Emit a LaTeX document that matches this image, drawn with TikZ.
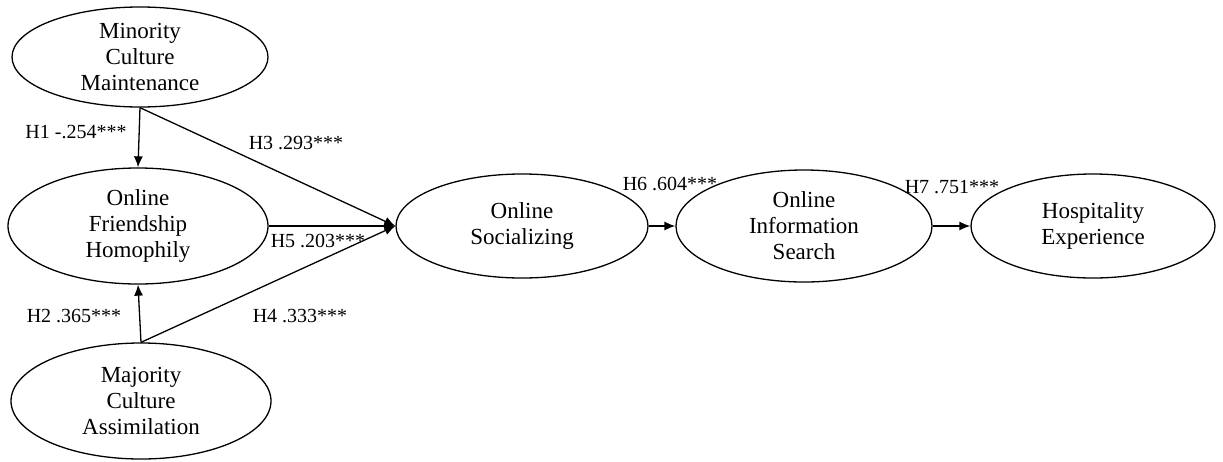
\documentclass[tikz,border=0pt]{standalone}
\usepackage{fontspec}
\setmainfont{Liberation Serif}
\usetikzlibrary{arrows.meta, shapes.geometric}

\tikzset{
  latent/.style = {draw, ellipse, line width=1.3pt, inner sep=0pt, align=center,
    font=\fontsize{23}{26}\selectfont},
  path/.style = {line width=1.3pt, -{Latex[length=11pt,width=9pt]}},
  coef/.style = {font=\fontsize{20}{22}\selectfont, inner sep=0pt}
}

\begin{document}
\begin{tikzpicture}[x=1pt, y=-1pt]
\useasboundingbox (0,0) rectangle (1223,461);
% constructs
\node [latent, minimum width=256pt, minimum height=100pt] (minority) at (140,57) {Minority\\Culture\\Maintenance};
\node [latent, minimum width=260pt, minimum height=116pt] (friend) at (138,226) {Online\\Friendship\\Homophily};
\node [latent, minimum width=260pt, minimum height=116pt] (majority) at (141,401) {Majority\\Culture\\Assimilation};
\node [latent, minimum width=252pt, minimum height=104pt] (social) at (522,226) {Online\\Socializing};
\node [latent, minimum width=256pt, minimum height=112pt] (search) at (804,226) {Online\\Information\\Search};
\node [latent, minimum width=244pt, minimum height=104pt] (hosp) at (1093,226) {Hospitality\\Experience};
% paths
\draw [path] (minority.south) -- (friend.north);
\draw [path] (majority.north) -- (friend.south);
\draw [path] (minority.south) -- (social.west);
\draw [path] (majority.north) -- (social.west);
\draw [path] (friend.east) -- (social.west);
\draw [path] (social.east) -- (search.west);
\draw [path] (search.east) -- (hosp.west);
% coefficients
\node [coef] (h1) at (76,132) {H1 -.254***};
\node [coef] (h2) at (74,316) {H2 .365***};
\node [coef] (h3) at (296,143) {H3 .293***};
\node [coef] (h4) at (300,316) {H4 .333***};
\node [coef] (h5) at (318,241) {H5 .203***};
\node [coef] (h6) at (670,184) {H6 .604***};
\node [coef] (h7) at (952,187) {H7 .751***};
\end{tikzpicture}
\end{document}
